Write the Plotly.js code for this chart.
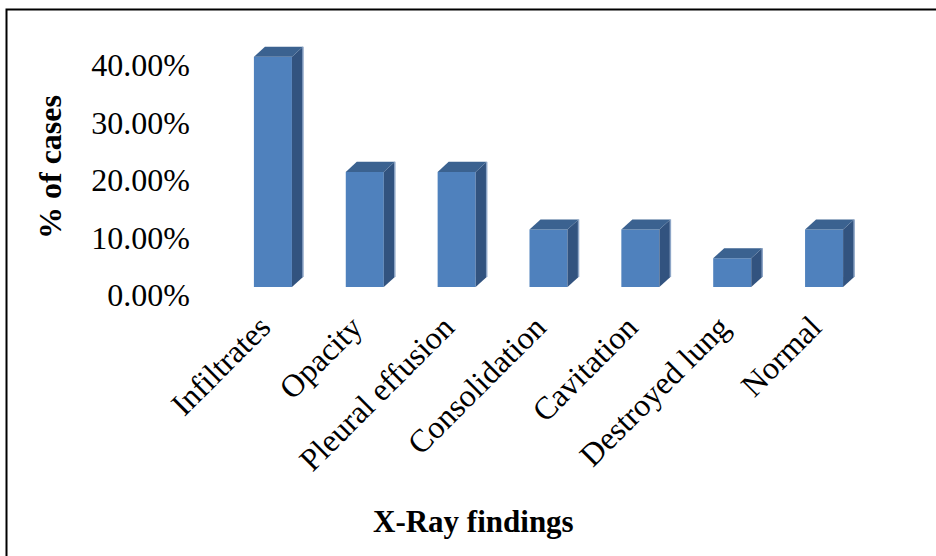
<!DOCTYPE html>
<html>
<head>
<meta charset="utf-8">
<script src="https://cdn.plot.ly/plotly-3.0.1.min.js"></script>
<style>html,body{margin:0;padding:0;background:#fff}#chart{width:936px;height:556px}</style>
</head>
<body>
<div id="chart"></div>
<script>
// Data
const categories = ["Infiltrates", "Opacity", "Pleural effusion", "Consolidation", "Cavitation", "Destroyed lung", "Normal"];
const values = [0.40, 0.20, 0.20, 0.10, 0.10, 0.05, 0.10];
const yTickVals = [0, 0.1, 0.2, 0.3, 0.4];
const xTitle = "X-Ray findings";
const yTitle = "% of cases";

// 3D look parameters (in axis units)
const W = 0.414, DX = 0.12, DY = 0.0174;
const FRONT = "#4F81BD", TOP = "#3B6290", SIDE = "#32537F", EDGE = "#8EA6C7";
const FONT = '"Liberation Serif", "Times New Roman", serif';

const xs = categories.map((_, i) => i);
const traces = [{
  type: "bar", x: xs, y: values, width: W,
  marker: {color: FRONT, line: {width: 0}},
  hoverinfo: "skip", cliponaxis: false
}];
xs.forEach((i, k) => {
  const v = values[k], l = i - W / 2, r = i + W / 2;
  traces.push({
    type: "scatter", mode: "lines", fill: "toself", fillcolor: SIDE,
    x: [r, r, r + DX, r + DX, r], y: [0, v, v + DY, DY, 0],
    line: {width: 0, color: SIDE}, hoverinfo: "skip", cliponaxis: false
  });
  traces.push({
    type: "scatter", mode: "lines", fill: "toself", fillcolor: TOP,
    x: [l, r, r + DX, l + DX, l], y: [v, v, v + DY, v + DY, v],
    line: {width: 0, color: TOP}, hoverinfo: "skip", cliponaxis: false
  });
  traces.push({
    type: "scatter", mode: "lines",
    x: [r + DX, r + DX], y: [DY, v + DY],
    line: {width: 1.5, color: EDGE}, hoverinfo: "skip", cliponaxis: false
  });
});

const L = 227, R = 66, T = 28, B = 269;
const pw = 936 - L - R, ph = 556 - T - B;
const px2x = p => (p - L) / pw;
const py2y = p => (556 - B - p) / ph;
const layout = {
  width: 936, height: 556,
  margin: {l: L, r: R, t: T, b: B, pad: 0},
  paper_bgcolor: "#fff", plot_bgcolor: "#fff",
  showlegend: false, hovermode: false,
  font: {family: FONT, color: "#000", size: 31},
  xaxis: {
    range: [-0.5, 6.5], tickvals: xs, ticktext: categories, tickangle: -45,
    showgrid: false, zeroline: false, showline: false, ticks: "",
    tickfont: {family: FONT, size: 32, color: "#000"},
    ticklabelstandoff: 14, ticklabelshift: -12,
    automargin: false, fixedrange: true
  },
  yaxis: {
    range: [0, 0.45], tickvals: yTickVals, tickformat: ".2%",
    showgrid: false, zeroline: false, showline: false, ticks: "",
    tickfont: {family: FONT, size: 32, color: "#000"},
    ticklabelstandoff: 36, ticklabelshift: 8,
    automargin: false, fixedrange: true
  },
  annotations: [
    {text: "<b>" + xTitle + "</b>", xref: "paper", yref: "paper",
     x: px2x(473), y: py2y(521), xanchor: "center", yanchor: "middle",
     showarrow: false, font: {family: FONT, size: 31, color: "#000"}},
    {text: "<b>" + yTitle + "</b>", xref: "paper", yref: "paper",
     x: px2x(50), y: py2y(167), xanchor: "center", yanchor: "middle", textangle: -90,
     showarrow: false, font: {family: FONT, size: 32, color: "#000"}}
  ],
  shapes: [{
    type: "rect", xref: "paper", yref: "paper",
    x0: px2x(6.5), x1: px2x(945),
    y0: py2y(9.5), y1: py2y(570),
    line: {color: "#000", width: 2}, fillcolor: "rgba(0,0,0,0)", layer: "above"
  }]
};
Plotly.newPlot("chart", traces, layout, {staticPlot: true, displayModeBar: false});
</script>
</body>
</html>
